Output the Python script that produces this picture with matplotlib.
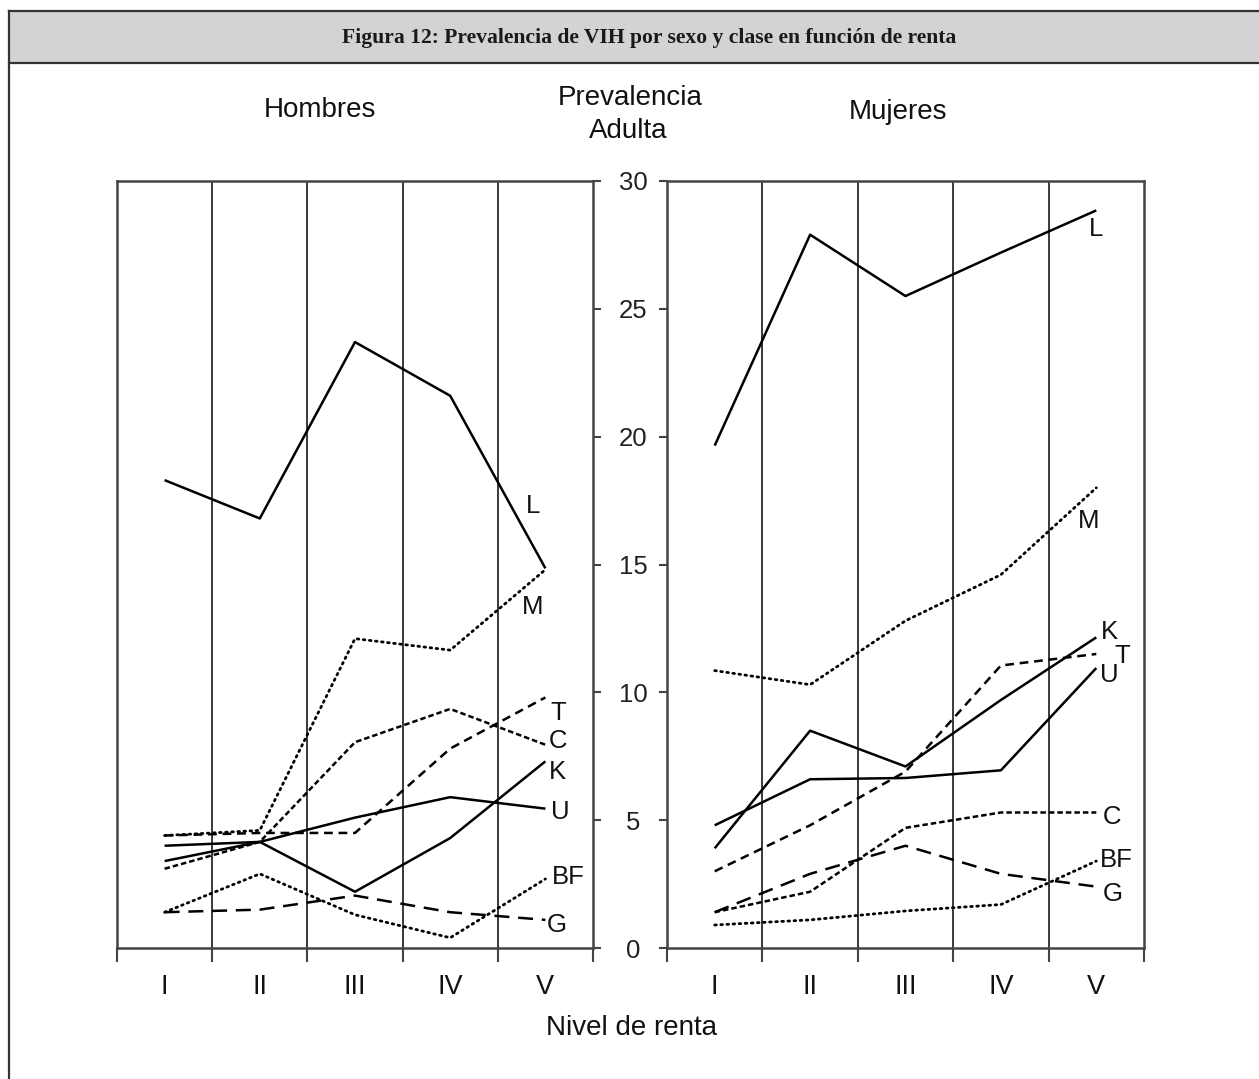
import matplotlib
matplotlib.use("Agg")
import matplotlib.pyplot as plt
from matplotlib.lines import Line2D
from matplotlib.patches import Rectangle

plt.rcParams['font.family'] = ['Liberation Sans', 'DejaVu Sans']

levels = ["I", "II", "III", "IV", "V"]
series_names = ["L", "M", "T", "C", "K", "U", "BF", "G"]

hombres_L = [18.3, 16.8, 23.7, 21.6, 14.85]
hombres_M = [4.4, 4.6, 12.1, 11.65, 14.8]
hombres_T = [4.4, 4.5, 4.5, 7.8, 9.8]
hombres_C = [3.1, 4.15, 8.05, 9.35, 7.95]
hombres_K = [3.4, 4.15, 2.2, 4.3, 7.3]
hombres_U = [4.0, 4.15, 5.1, 5.9, 5.45]
hombres_BF = [1.4, 2.9, 1.3, 0.4, 2.7]
hombres_G = [1.4, 1.5, 2.05, 1.4, 1.1]

mujeres_L = [19.65, 27.9, 25.5, 27.2, 28.85]
mujeres_M = [10.85, 10.3, 12.8, 14.6, 18.0]
mujeres_T = [3.0, 4.8, 6.9, 11.05, 11.5]
mujeres_C = [1.4, 2.2, 4.7, 5.3, 5.3]
mujeres_K = [3.9, 8.5, 7.1, 9.7, 12.15]
mujeres_U = [4.8, 6.6, 6.65, 6.95, 10.95]
mujeres_BF = [0.9, 1.1, 1.45, 1.7, 3.4]
mujeres_G = [1.4, 2.9, 4.0, 2.9, 2.4]

y_ticks = [0, 5, 10, 15, 20, 25, 30]

title = "Figura 12: Prevalencia de VIH por sexo y clase en función de renta"

styles = {
    "L": "-", "K": "-", "U": "-",
    "M": (0, (0.6, 1.6)), "BF": (0, (0.6, 1.6)),
    "T": (0, (3.5, 2.3)), "C": (0, (2.2, 1.2)), "G": (0, (6, 3.5)),
}

# label offsets (points) relative to last point
lab_h = {"L": (-8.6, 45), "M": (-9.4, -27), "T": (9.4, -11.2), "C": (9.4, 2.7),
         "K": (8.6, -7.7), "U": (10.8, -2.4), "BF": (16.6, 1.4), "G": (7.9, -3.7)}
lab_m = {"L": (0, -13.6), "M": (-5.8, -24), "K": (9.4, 3.8), "T": (18.7, -1.5),
         "U": (9.4, -5), "C": (11.5, -3.2), "BF": (14.4, 0.8), "G": (11.5, -5.3)}

W, H = 1259, 1079
fig = plt.figure(figsize=(W / 100, H / 100), dpi=100)

# frame: title bar and left border
fig.patches.append(Rectangle((9 / W, 1 - 63 / H), 1 - 9 / W, 52 / H,
                             transform=fig.transFigure, facecolor="#d3d3d5",
                             edgecolor="none", zorder=0))
fig.add_artist(Line2D([9 / W, 1], [1 - 11 / H, 1 - 11 / H], color="#333333", lw=1.6))
fig.add_artist(Line2D([9 / W, 1], [1 - 63 / H, 1 - 63 / H], color="#333333", lw=1.6))
fig.add_artist(Line2D([9 / W, 9 / W], [0, 1 - 11 / H], color="#333333", lw=1.6))
fig.text(649 / W, 1 - 38 / H, title, ha="center", va="center", fontsize=15.6,
         fontweight="bold", family=["Liberation Serif", "DejaVu Serif"], color="#1a1a1a")

ax_bottom = 1 - 948 / H
ax_h = 767 / H
axL = fig.add_axes([117 / W, ax_bottom, 476 / W, ax_h])
axR = fig.add_axes([667 / W, ax_bottom, 477 / W, ax_h])

data_h = dict(zip(series_names, [hombres_L, hombres_M, hombres_T, hombres_C,
                                 hombres_K, hombres_U, hombres_BF, hombres_G]))
data_m = dict(zip(series_names, [mujeres_L, mujeres_M, mujeres_T, mujeres_C,
                                 mujeres_K, mujeres_U, mujeres_BF, mujeres_G]))

x = list(range(1, len(levels) + 1))
for ax, data, labs in [(axL, data_h, lab_h), (axR, data_m, lab_m)]:
    ax.set_xlim(0.5, len(levels) + 0.5)
    ax.set_ylim(0, 30)
    for b in [1.5, 2.5, 3.5, 4.5]:
        ax.axvline(b, color="#2a2a2a", lw=1.3, zorder=1)
    for name in series_names:
        dotted = name in ("M", "BF")
        ax.plot(x, data[name], color="black", lw=2.0 if dotted else 1.8,
                linestyle=styles[name], zorder=3, solid_capstyle="butt",
                dash_capstyle="round" if dotted else "butt")
        ax.annotate(name, (x[-1], data[name][-1]), xytext=labs[name],
                    textcoords="offset points", ha="center", va="center",
                    fontsize=18.5, color="#111111")
    for sp in ax.spines.values():
        sp.set_color("#444444")
        sp.set_linewidth(1.8)
    ax.set_xticks([0.5, 1.5, 2.5, 3.5, 4.5, 5.5])
    ax.set_xticklabels([])
    ax.set_xticks(x, minor=True)
    ax.set_xticklabels(levels, minor=True, fontsize=19.5)
    ax.tick_params(axis="x", which="major", direction="out", length=10,
                   width=1.5, color="#444444")
    ax.tick_params(axis="x", which="minor", length=0, pad=19, labelcolor="#111111")
    ax.set_yticks(y_ticks)

axL.tick_params(axis="y", left=False, labelleft=False, right=True, labelright=True,
                direction="out", length=6, width=1.5, color="#444444",
                labelsize=18.5, pad=23, labelcolor="#222222")
for lab in axL.get_yticklabels():
    lab.set_horizontalalignment("center")
axR.tick_params(axis="y", left=True, labelleft=False, right=False, labelright=False,
                direction="out", length=6, width=1.5, color="#444444")

fig.text(320 / W, 1 - 110 / H, "Hombres", ha="center", va="center", fontsize=20, color="#111111")
fig.text(898 / W, 1 - 112 / H, "Mujeres", ha="center", va="center", fontsize=20, color="#111111")
fig.text(630 / W, 1 - 98 / H, "Prevalencia", ha="center", va="center", fontsize=20, color="#111111")
fig.text(628 / W, 1 - 131 / H, "Adulta", ha="center", va="center", fontsize=20, color="#111111")
fig.text(631 / W, 1 - 1028 / H, "Nivel de renta", ha="center", va="center", fontsize=20, color="#111111")

fig.savefig("out.png", dpi=100, facecolor="white")
